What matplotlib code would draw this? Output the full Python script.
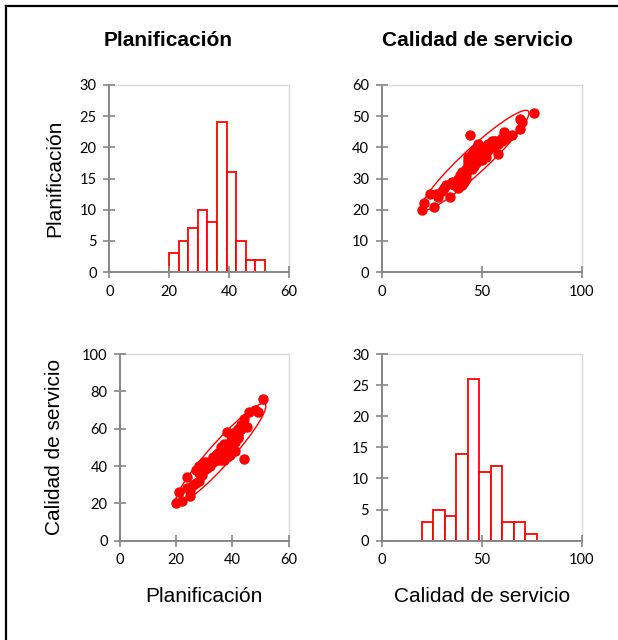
import numpy as np
import matplotlib.pyplot as plt
from matplotlib.patches import Ellipse
from matplotlib.lines import Line2D

# Puntajes por encuestado (82 casos)
planificacion = [
    20, 21, 22,
    24, 24, 25, 25, 26,
    27, 27, 28, 28, 28, 29, 29,
    30, 30, 30, 31, 31, 31, 32, 32, 32, 32,
    33, 33, 34, 34, 34, 35, 35, 35,
    36, 36, 36, 36, 36, 36,
    37, 37, 37, 37, 37, 37,
    38, 38, 38, 38, 38, 38,
    39, 39, 39, 39, 39, 39,
    40, 40, 40, 40, 40,
    41, 41, 41, 41, 41,
    42, 42, 42, 42, 42, 42,
    43, 43, 44, 44, 45,
    46, 48,
    49, 51,
]
calidad = [
    20, 26, 21,
    34, 28, 24, 27, 30,
    31, 38, 36, 32, 40, 35, 41,
    38, 42, 39, 39, 40, 42, 40, 41, 41, 42,
    42, 45, 43, 46, 44, 43, 47, 45,
    43, 48, 44, 46, 50, 45,
    43, 47, 49, 44, 48, 52,
    45, 46, 48, 51, 58, 47,
    46, 48, 50, 53, 47, 49,
    48, 51, 55, 52, 54,
    53, 56, 48, 57, 58,
    55, 59, 56, 60, 57, 59,
    60, 62, 65, 44, 61,
    69, 70,
    69, 76,
]

variables = ['Planificación', 'Calidad de servicio']
bins_plan = np.linspace(20, 52, 11)
bins_cal = np.linspace(20, 77.5, 11)

rojo = 'red'
gris_eje = '#868686'
gris_borde = '#d9d9d9'
fuente_ticks = 'Lato'
fuente_texto = ['Liberation Sans', 'DejaVu Sans']

fig = plt.figure(figsize=(6.18, 6.40), dpi=100)
W, H = 618, 640


def caja(x0, x1, y_top, y_bot):
    return [x0 / W, 1 - y_bot / H, (x1 - x0) / W, (y_bot - y_top) / H]


ax_h1 = fig.add_axes(caja(109.3, 288.7, 85, 272))
ax_s1 = fig.add_axes(caja(381.7, 582, 85, 272))
ax_s2 = fig.add_axes(caja(120, 288.7, 354, 540.7))
ax_h2 = fig.add_axes(caja(381.7, 582, 354, 540.7))


def estilo(ax, xmax, ymax, xstep, ystep):
    ax.set_xlim(0, xmax)
    ax.set_ylim(0, ymax)
    ax.set_xticks(np.arange(0, xmax + 1, xstep))
    ax.set_yticks(np.arange(0, ymax + 1, ystep))
    for lado in ['left', 'bottom']:
        ax.spines[lado].set_color(gris_eje)
        ax.spines[lado].set_linewidth(1.4)
    for lado in ['top', 'right']:
        ax.spines[lado].set_color(gris_borde)
        ax.spines[lado].set_linewidth(1.0)
    ax.tick_params(direction='inout', length=8, width=1.2, color=gris_eje,
                   labelsize=10.5, pad=5)
    for t in ax.get_xticklabels() + ax.get_yticklabels():
        t.set_family(fuente_ticks)
    ax.set_axisbelow(False)


def elipse(ax, x, y, color):
    x = np.asarray(x, float)
    y = np.asarray(y, float)
    cov = np.cov(x, y)
    vals, vecs = np.linalg.eigh(cov)
    orden = vals.argsort()[::-1]
    vals, vecs = vals[orden], vecs[:, orden]
    ang = np.degrees(np.arctan2(vecs[1, 0], vecs[0, 0]))
    k = np.sqrt(5.991)
    e = Ellipse((x.mean(), y.mean()), 2 * k * np.sqrt(vals[0]), 2 * k * np.sqrt(vals[1]),
                angle=ang, fill=False, edgecolor=color, linewidth=1.0)
    ax.add_patch(e)


# Histogramas en la diagonal
ax_h1.hist(planificacion, bins=bins_plan, facecolor='white', edgecolor=rojo, linewidth=1.3)
estilo(ax_h1, 60, 30, 20, 5)

ax_h2.hist(calidad, bins=bins_cal, facecolor='white', edgecolor=rojo, linewidth=1.3)
estilo(ax_h2, 100, 30, 50, 5)

# Dispersión fuera de la diagonal
ax_s1.plot(calidad, planificacion, 'o', color=rojo, markersize=6.5, clip_on=False)
elipse(ax_s1, calidad, planificacion, rojo)
estilo(ax_s1, 100, 60, 50, 10)

ax_s2.plot(planificacion, calidad, 'o', color=rojo, markersize=6.5, clip_on=False)
elipse(ax_s2, planificacion, calidad, rojo)
estilo(ax_s2, 60, 100, 20, 20)

# Títulos y etiquetas
fig.text(168 / W, 1 - 40 / H, variables[0], ha='center', va='center',
         fontsize=15, fontweight='bold', family=fuente_texto)
fig.text(477 / W, 1 - 40 / H, variables[1], ha='center', va='center',
         fontsize=15, fontweight='bold', family=fuente_texto)
fig.text(55 / W, 1 - 178 / H, variables[0], ha='center', va='center', rotation=90,
         fontsize=15, family=fuente_texto)
fig.text(55 / W, 1 - 447 / H, variables[1], ha='center', va='center', rotation=90,
         fontsize=15, family=fuente_texto)
fig.text(204 / W, 1 - 597 / H, variables[0], ha='center', va='center',
         fontsize=15, family=fuente_texto)
fig.text(482 / W, 1 - 597 / H, variables[1], ha='center', va='center',
         fontsize=15, family=fuente_texto)

# Marco exterior
fig.add_artist(Line2D([6 / W, 1], [1 - 6 / H, 1 - 6 / H], color='black', linewidth=1.6,
                      transform=fig.transFigure))
fig.add_artist(Line2D([6 / W, 6 / W], [0, 1 - 6 / H], color='black', linewidth=1.6,
                      transform=fig.transFigure))

fig.savefig('out.png', dpi=100)
